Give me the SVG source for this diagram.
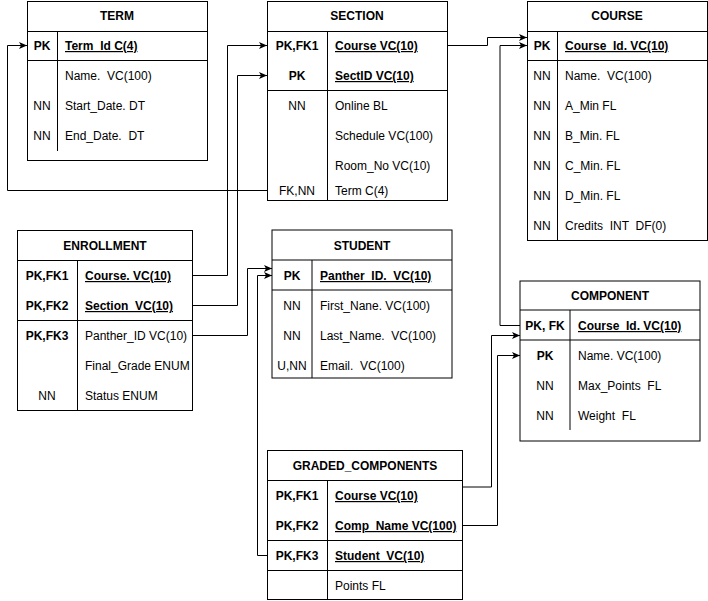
<svg xmlns="http://www.w3.org/2000/svg" width="708" height="601" viewBox="0 0 708 601" xml:space="preserve">
<style>
.box{fill:#fff;stroke:#000;stroke-width:1}
.ln{fill:none;stroke:#000;stroke-width:1}
.t{font-family:"Liberation Sans",Arial,Helvetica,sans-serif;font-size:12px;fill:#000;white-space:pre}
.b{font-weight:bold}
.u{text-decoration:underline}
.c{text-anchor:middle}
</style>
<defs>
<marker id="arr" markerUnits="userSpaceOnUse" markerWidth="9" markerHeight="8" refX="8" refY="4" orient="auto">
<path d="M0,0.5 L8,4 L0,7.5 L2,4 z" fill="#000"/>
</marker>
</defs>
<rect width="708" height="601" fill="#fff"/>
<g id="term">
<rect class="box" x="27.5" y="1.5" width="180" height="159"/>
<path class="ln" d="M27.5,31.5H207.5M27.5,60.5H207.5M57.5,31.5V151"/>
<text class="t b c" x="117" y="20">TERM</text>
<text class="t b c" x="42" y="50">PK</text>
<text class="t b u" x="65" y="50">Term_Id C(4)</text>
<text class="t" x="65" y="80">Name.  VC(100)</text>
<text class="t c" x="42" y="110">NN</text>
<text class="t" x="65" y="110">Start_Date. DT</text>
<text class="t c" x="42" y="140">NN</text>
<text class="t" x="65" y="140">End_Date.  DT</text>
</g>
<g id="section">
<rect class="box" x="267.5" y="1.5" width="180" height="199"/>
<path class="ln" d="M267.5,31.5H447.5M267.5,90.5H447.5M327.5,31.5V200.5"/>
<text class="t b c" x="357" y="20">SECTION</text>
<text class="t b c" x="297" y="50">PK,FK1</text>
<text class="t b u" x="335" y="50">Course VC(10)</text>
<text class="t b c" x="297" y="80">PK</text>
<text class="t b u" x="335" y="80">SectID VC(10)</text>
<text class="t c" x="297" y="110">NN</text>
<text class="t" x="335" y="110">Online BL</text>
<text class="t" x="335" y="140">Schedule VC(100)</text>
<text class="t" x="335" y="170">Room_No VC(10)</text>
<text class="t c" x="297" y="195">FK,NN</text>
<text class="t" x="335" y="195">Term C(4)</text>
</g>
<g id="course">
<rect class="box" x="527.5" y="1.5" width="180" height="239"/>
<path class="ln" d="M527.5,31.5H707.5M527.5,60.5H707.5M557.5,31.5V240.5"/>
<text class="t b c" x="617" y="20">COURSE</text>
<text class="t b c" x="542" y="50">PK</text>
<text class="t b u" x="565" y="50">Course_Id. VC(10)</text>
<text class="t c" x="542" y="80">NN</text>
<text class="t" x="565" y="80">Name.  VC(100)</text>
<text class="t c" x="542" y="110">NN</text>
<text class="t" x="565" y="110">A_Min FL</text>
<text class="t c" x="542" y="140">NN</text>
<text class="t" x="565" y="140">B_Min. FL</text>
<text class="t c" x="542" y="170">NN</text>
<text class="t" x="565" y="170">C_Min. FL</text>
<text class="t c" x="542" y="200">NN</text>
<text class="t" x="565" y="200">D_Min. FL</text>
<text class="t c" x="542" y="230">NN</text>
<text class="t" x="565" y="230">Credits  INT  DF(0)</text>
</g>
<g id="enrollment">
<rect class="box" x="17.5" y="230.5" width="175" height="180"/>
<path class="ln" d="M17.5,260.5H192.5M17.5,320.5H192.5M77.5,260.5V410.5"/>
<text class="t b c" x="105" y="250">ENROLLMENT</text>
<text class="t b c" x="47" y="280">PK,FK1</text>
<text class="t b u" x="85" y="280">Course. VC(10)</text>
<text class="t b c" x="47" y="310">PK,FK2</text>
<text class="t b u" x="85" y="310">Section  VC(10)</text>
<text class="t b c" x="47" y="340">PK,FK3</text>
<text class="t" x="85" y="340">Panther_ID VC(10)</text>
<text class="t" x="85" y="370">Final_Grade ENUM</text>
<text class="t c" x="47" y="400">NN</text>
<text class="t" x="85" y="400">Status ENUM</text>
</g>
<g id="student">
<rect class="box" x="272" y="230" width="180" height="148"/>
<path class="ln" d="M272,260H452M272,290H452M312,260V378"/>
<text class="t b c" x="362" y="250">STUDENT</text>
<text class="t b c" x="292" y="280">PK</text>
<text class="t b u" x="320" y="280">Panther_ID.  VC(10)</text>
<text class="t c" x="292" y="310">NN</text>
<text class="t" x="320" y="310">First_Nane. VC(100)</text>
<text class="t c" x="292" y="340">NN</text>
<text class="t" x="320" y="340">Last_Name.  VC(100)</text>
<text class="t c" x="292" y="370">U,NN</text>
<text class="t" x="320" y="370">Email.  VC(100)</text>
</g>
<g id="component">
<rect class="box" x="520" y="281" width="180" height="160"/>
<path class="ln" d="M520,310H700M520,340H700M570,310V430"/>
<text class="t b c" x="610" y="300">COMPONENT</text>
<text class="t b c" x="545" y="330">PK, FK</text>
<text class="t b u" x="578" y="330">Course_Id. VC(10)</text>
<text class="t b c" x="545" y="360">PK</text>
<text class="t" x="578" y="360">Name. VC(100)</text>
<text class="t c" x="545" y="390">NN</text>
<text class="t" x="578" y="390">Max_Points  FL</text>
<text class="t c" x="545" y="420">NN</text>
<text class="t" x="578" y="420">Weight  FL</text>
</g>
<g id="graded_components">
<rect class="box" x="267.5" y="450.5" width="195" height="149"/>
<path class="ln" d="M267.5,480.5H462.5M267.5,540.5H462.5M267.5,570.5H462.5M327.5,480.5V599.5"/>
<text class="t b c" x="365" y="470">GRADED_COMPONENTS</text>
<text class="t b c" x="297" y="500">PK,FK1</text>
<text class="t b u" x="335" y="500">Course VC(10)</text>
<text class="t b c" x="297" y="530">PK,FK2</text>
<text class="t b u" x="335" y="530">Comp_Name VC(100)</text>
<text class="t b c" x="297" y="560">PK,FK3</text>
<text class="t b u" x="335" y="560">Student  VC(10)</text>
<text class="t" x="335" y="590">Points FL</text>
</g>
<g id="connectors">
<path class="ln" marker-end="url(#arr)" d="M267,190.5H7.5V45.5H27"/>
<path class="ln" marker-end="url(#arr)" d="M193,275.5H227.5V45.5H267"/>
<path class="ln" marker-end="url(#arr)" d="M193,305.5H237.5V75.5H267"/>
<path class="ln" marker-end="url(#arr)" d="M193,335.5H247.5V268.5H272"/>
<path class="ln" marker-end="url(#arr)" d="M267,555.5H257.5V275.5H272"/>
<path class="ln" marker-end="url(#arr)" d="M448,45.5H487.5V37.5H527"/>
<path class="ln" marker-end="url(#arr)" d="M520,325.5H500V45.5H527"/>
<path class="ln" marker-end="url(#arr)" d="M463,487H491.5V335.5H520"/>
<path class="ln" marker-end="url(#arr)" d="M463,525.5H497.5V355.5H520"/>
</g>
</svg>
